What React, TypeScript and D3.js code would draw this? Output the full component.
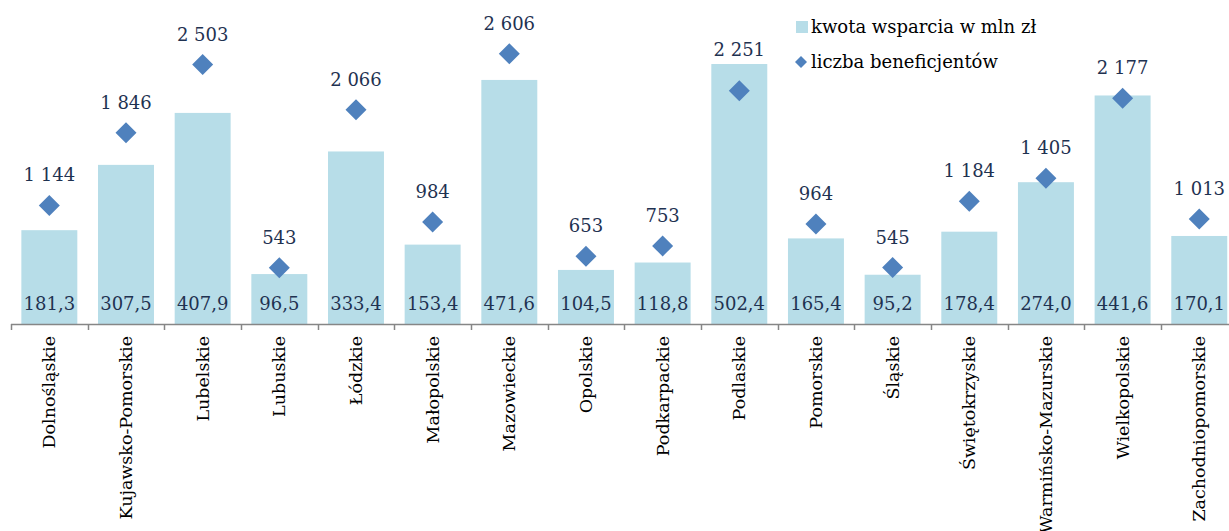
import React from "react";
import * as d3 from "d3";

const categories = ["Dolnośląskie","Kujawsko-Pomorskie","Lubelskie","Lubuskie","Łódzkie","Małopolskie","Mazowieckie","Opolskie","Podkarpackie","Podlaskie","Pomorskie","Śląskie","Świętokrzyskie","Warmińsko-Mazurskie","Wielkopolskie","Zachodniopomorskie"];
const kwota = [181.3,307.5,407.9,96.5,333.4,153.4,471.6,104.5,118.8,502.4,165.4,95.2,178.4,274.0,441.6,170.1];
const beneficjenci = [1144,1846,2503,543,2066,984,2606,653,753,2251,964,545,1184,1405,2177,1013];
const legendLabels = ["kwota wsparcia w mln zł","liczba beneficjentów"];

const W = 1229, H = 531;
const FONT = "'DejaVu Serif', serif";
const fmtInt = (v: number) => d3.format(",")(v).replace(/,/g, " ");
const fmtDec = (v: number) => d3.format(".1f")(v).replace(".", ",");

export default function App() {
  const axisY = 324;
  const x = d3.scaleBand<string>().domain(categories).range([11, 1237.6]).paddingInner(0.27).paddingOuter(0.135);
  const yBar = d3.scaleLinear().domain([0, 600]).range([axisY, axisY - 310.5]);
  const yPt = d3.scaleLinear().domain([0, 3000]).range([axisY, axisY - 311]);
  const step = x.step();
  const textColor = "#1f3251";
  const diamond = (cx: number, cy: number, r: number) => `M${cx},${cy - r}L${cx + r},${cy}L${cx},${cy + r}L${cx - r},${cy}Z`;
  return (
    <svg width={W} height={H} style={{ position: "absolute", left: 0, top: 0, background: "#fff" }} fontFamily={FONT}>
      {categories.map((c, i) => {
        const bx = x(c)!;
        const bw = x.bandwidth();
        const cx = bx + bw / 2;
        const top = yBar(kwota[i]);
        const py = yPt(beneficjenci[i]);
        // label sits above the diamond, but never inside the bar
        const labelY = py > top ? Math.min(py - 24, top - 8) : py - 24;
        return (
          <g key={c}>
            <rect x={bx} y={top} width={bw} height={axisY - top} fill="#b7dde8" />
            <text x={cx} y={310} textAnchor="middle" fontSize={18} fill={textColor}>{fmtDec(kwota[i])}</text>
            <path d={diamond(cx, py, 10.5)} fill="#4f81bd" />
            <text x={cx} y={labelY} textAnchor="middle" fontSize={18} fill={textColor}>{fmtInt(beneficjenci[i])}</text>
            <text transform={`translate(${cx + 6},${336}) rotate(-90)`} textAnchor="end" fontSize={17.5} fill="#000">{c}</text>
          </g>
        );
      })}
      <line x1={11} x2={W} y1={axisY + 0.5} y2={axisY + 0.5} stroke="#868686" strokeWidth={1.5} />
      {d3.range(categories.length + 1).map(i => {
        const tx = Math.round(11 + i * step) + 0.5;
        return <line key={i} x1={tx} x2={tx} y1={axisY} y2={axisY + 6} stroke="#868686" strokeWidth={1.5} />;
      })}
      <rect x={796} y={21} width={12} height={12} fill="#b7dde8" />
      <text x={811} y={33} fontSize={18} fill="#000">{legendLabels[0]}</text>
      <path d={diamond(801, 62, 6)} fill="#4f81bd" />
      <text x={811} y={68} fontSize={18} fill="#000">{legendLabels[1]}</text>
    </svg>
  );
}
